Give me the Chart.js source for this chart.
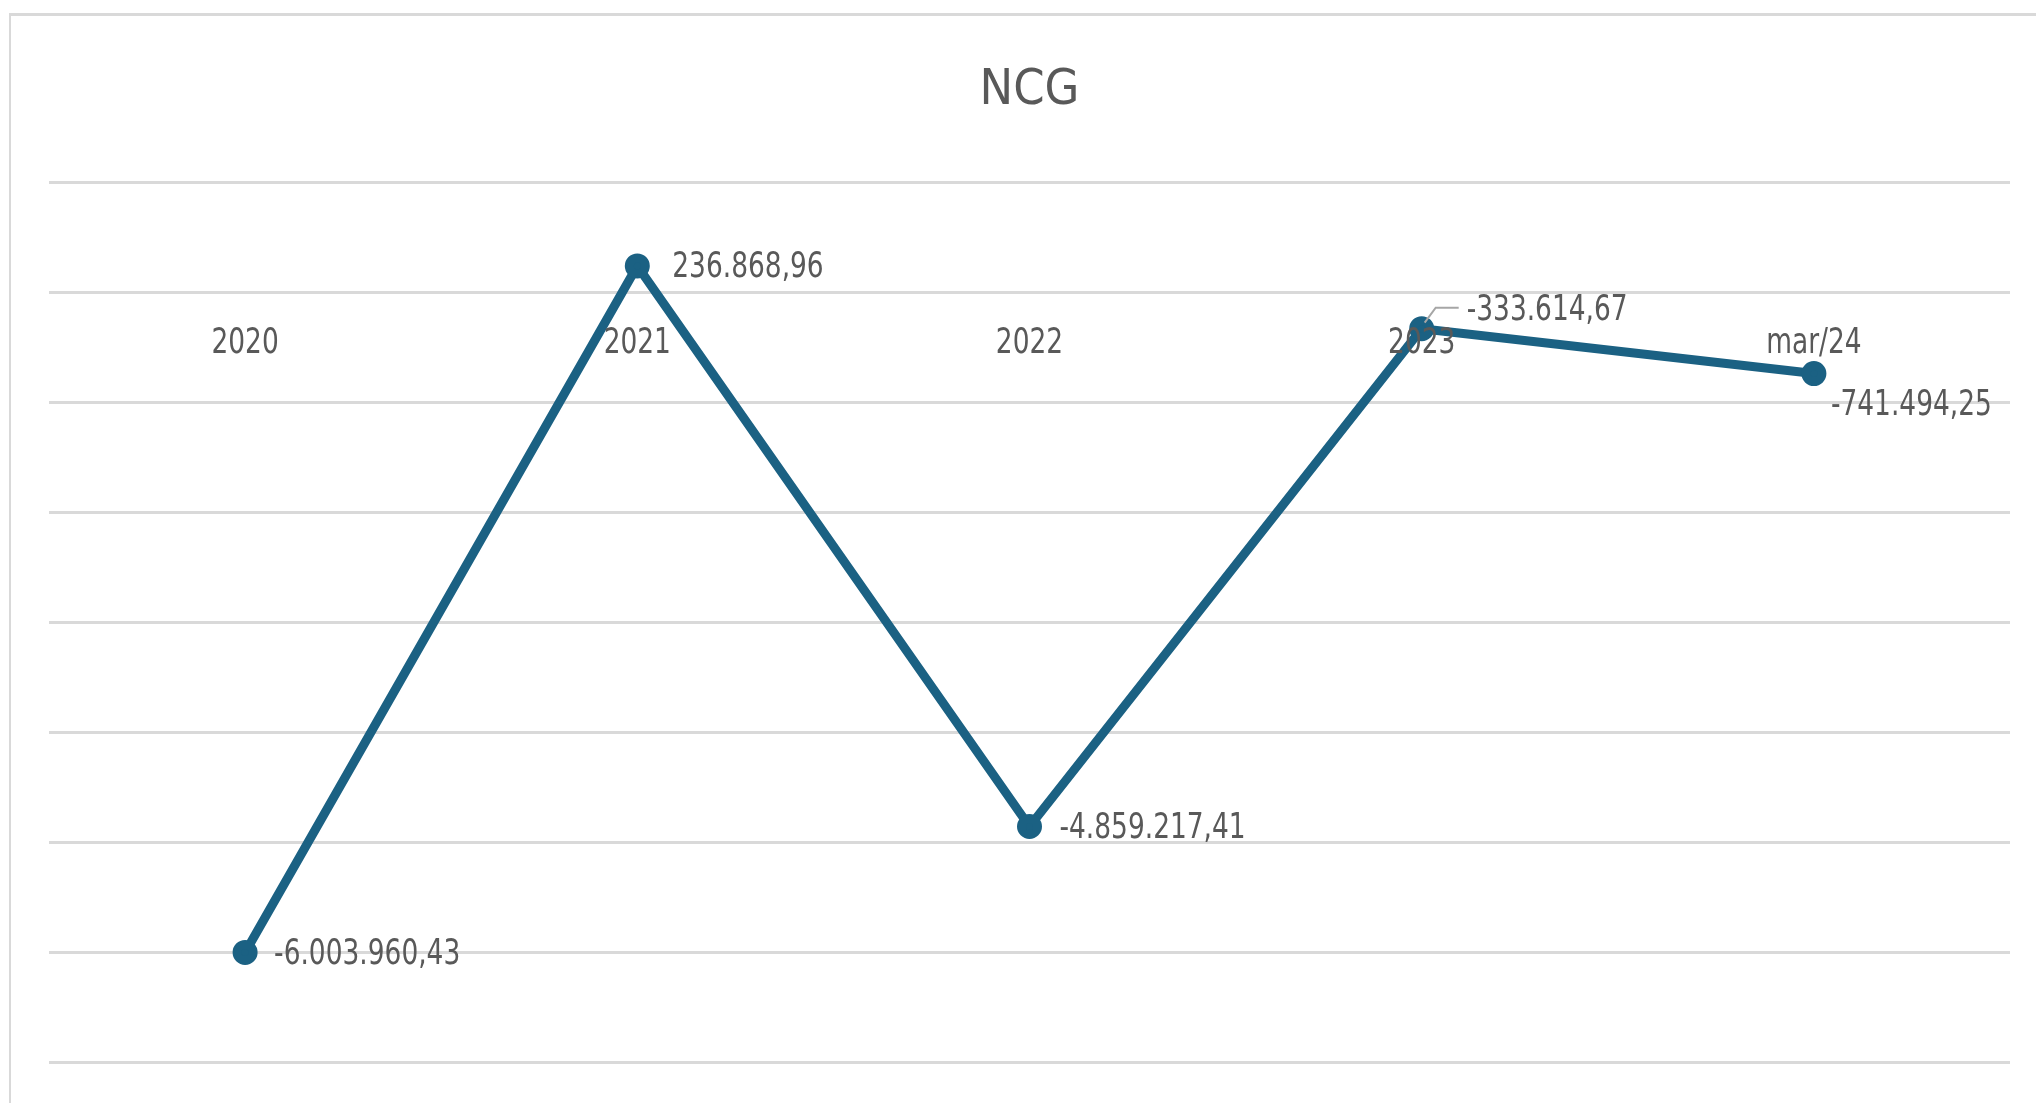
<!DOCTYPE html>
<html>
<head>
<meta charset="utf-8">
<script src="https://cdn.jsdelivr.net/npm/chart.js@4.4.1/dist/chart.umd.min.js"></script>
<style>
  html, body { margin: 0; padding: 0; background: #fff; overflow: hidden; }
  #frame {
    position: absolute; left: 9px; top: 13px; width: 2100px; height: 1200px;
    border-left: 2px solid #d9d9d9; border-top: 3px solid #d9d9d9;
  }
  #wrap { position: absolute; left: 0; top: 0; width: 2036px; height: 1103px; }
</style>
</head>
<body>
<div id="frame"></div>
<div id="wrap"><canvas id="ncgChart"></canvas></div>
<script>
var categories = ['2020', '2021', '2022', '2023', 'mar/24'];
var ncgValues = [-6003960.43, 236868.96, -4859217.41, -333614.67, -741494.25];
var yMin = -7000000;
var yMax = 1000000;
var yStep = 1000000;

var FONT = '"Liberation Sans Narrow", "DejaVu Sans Condensed", "Roboto Condensed", sans-serif';
var TEXT_COLOR = '#595959';
var LINE_COLOR = '#1b6183';
var SQUEEZE = 0.84; // fonte estreita simulada

// numero no formato pt-BR: 1.234.567,89
function fmtBR(v) {
    var s = Math.abs(v).toFixed(2).split('.');
    var i = s[0].replace(/\B(?=(\d{3})+(?!\d))/g, '.');
    return (v < 0 ? '-' : '') + i + ',' + s[1];
}

function narrowText(ctx, text, x, y, align) {
    ctx.save();
    ctx.translate(x, y);
    ctx.scale(SQUEEZE, 1);
    ctx.textAlign = align;
    ctx.fillText(text, 0, 0);
    ctx.restore();
}

// rotulos do eixo de categorias, na linha do zero
var categoryLabels = {
    id: 'categoryLabels',
    afterDatasetsDraw: function(chart, args, opts) {
        var ctx = chart.ctx;
        var xs = chart.scales.x;
        var y0 = chart.scales.y.getPixelForValue(0) + opts.gap;
        ctx.save();
        ctx.font = opts.size + 'px ' + FONT;
        ctx.fillStyle = TEXT_COLOR;
        ctx.textBaseline = 'middle';
        chart.data.labels.forEach(function(lbl, i) {
            narrowText(ctx, lbl, xs.getPixelForValue(i), y0, 'center');
        });
        ctx.restore();
    }
};

// rotulos de dados ao lado de cada ponto
var pointLabels = {
    id: 'pointLabels',
    afterDatasetsDraw: function(chart, args, opts) {
        var ctx = chart.ctx;
        var meta = chart.getDatasetMeta(0);
        var data = chart.data.datasets[0].data;
        ctx.save();
        ctx.font = opts.size + 'px ' + FONT;
        ctx.fillStyle = TEXT_COLOR;
        ctx.textBaseline = 'middle';
        meta.data.forEach(function(pt, i) {
            var off = opts.offsets[i];
            var x = pt.x + off[0];
            var y = pt.y + off[1];
            if (off[2]) {
                // linha de chamada
                ctx.strokeStyle = '#a6a6a6';
                ctx.lineWidth = 2;
                ctx.beginPath();
                ctx.moveTo(pt.x + 3, pt.y - 6);
                ctx.lineTo(pt.x + 14, pt.y - 21);
                ctx.lineTo(x - 8, pt.y - 21);
                ctx.stroke();
            }
            narrowText(ctx, fmtBR(data[i]), x, y + 2, 'left');
        });
        ctx.restore();
    }
};

var ctx = document.getElementById('ncgChart').getContext('2d');
var ncgChart = new Chart(ctx, {
    type: 'line',
    data: {
        labels: categories,
        datasets: [{
            label: 'NCG',
            data: ncgValues,
            borderColor: LINE_COLOR,
            backgroundColor: LINE_COLOR,
            borderWidth: 9,
            pointRadius: 8,
            pointHoverRadius: 8,
            tension: 0
        }]
    },
    options: {
        responsive: true,
        maintainAspectRatio: false,
        animation: false,
        layout: {
            padding: { left: 49, right: 26, top: 0, bottom: 41 }
        },
        plugins: {
            legend: { display: false },
            tooltip: { enabled: false },
            title: {
                display: true,
                text: 'NCG',
                color: TEXT_COLOR,
                font: { family: FONT, size: 50, weight: 'normal' },
                padding: { top: 61, bottom: 61 }
            },
            categoryLabels: { size: 35, gap: 52 },
            pointLabels: {
                size: 35,
                offsets: [[29, 0], [35, 0], [30, 0], [45, -20, true], [17, 30]]
            }
        },
        scales: {
            x: {
                offset: true,
                grid: { display: false, drawTicks: false },
                border: { display: false },
                ticks: { display: false },
                afterFit: function(scale) { scale.height = 0; }
            },
            y: {
                min: yMin,
                max: yMax,
                ticks: { display: false, stepSize: yStep },
                grid: { color: '#d9d9d9', lineWidth: 3, drawTicks: false },
                border: { display: false },
                afterFit: function(scale) { scale.width = 0; }
            }
        }
    },
    plugins: [categoryLabels, pointLabels]
});
</script>
</body>
</html>
